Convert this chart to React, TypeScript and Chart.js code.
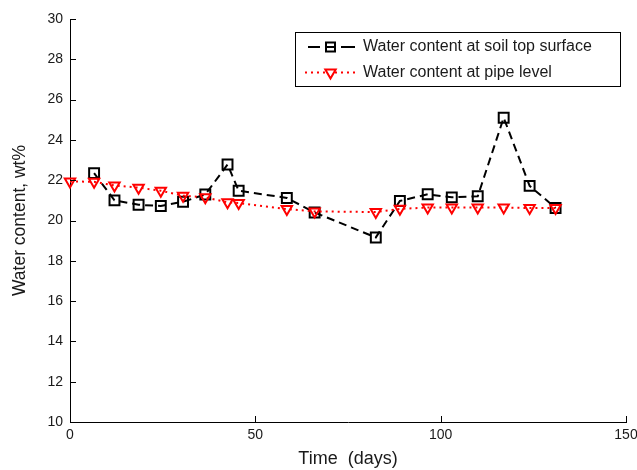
import React, { useEffect, useRef } from 'react';
import { Chart, registerables } from 'chart.js';

Chart.register(...registerables);

// ---- data ----
const daysSurface = [6.5, 12, 18.5, 24.5, 30.5, 36.5, 42.5, 45.5, 58.5, 66, 82.5, 89, 96.5, 103, 110, 117, 124, 131];
const surfaceWC = [22.35, 21.0, 20.78, 20.72, 20.93, 21.29, 22.78, 21.48, 21.12, 20.4, 19.16, 20.97, 21.3, 21.15, 21.2, 25.1, 21.72, 20.62];
const daysPipe = [0, 6.5, 12, 18.5, 24.5, 30.5, 36.5, 42.5, 45.5, 58.5, 66, 82.5, 89, 96.5, 103, 110, 117, 124, 131];
const pipeWC = [21.94, 21.92, 21.74, 21.63, 21.48, 21.23, 21.15, 20.9, 20.87, 20.57, 20.45, 20.42, 20.58, 20.64, 20.64, 20.64, 20.64, 20.62, 20.62];
const legendLabels = ['Water content at soil top surface', 'Water content at pipe level'];
const xTitle = 'Time  (days)';
const yTitle = 'Water content, wt%';
const xMin = 0, xMax = 150, xStep = 50;
const yMin = 10, yMax = 30, yStep = 2;

const FONT = '"Liberation Sans", Arial, Helvetica, sans-serif';
const TEXT = '#1a1a1a';

const innerTicks = {
  id: 'innerTicks',
  afterDraw(chart: any) {
    const ctx = chart.ctx;
    const xs = chart.scales.x;
    const ys = chart.scales.y;
    const a = chart.chartArea;
    ctx.save();
    ctx.strokeStyle = '#000';
    ctx.lineWidth = 1;
    ctx.beginPath();
    xs.ticks.forEach((t: any) => {
      const px = Math.round(xs.getPixelForValue(t.value)) + 0.5;
      ctx.moveTo(px, a.bottom);
      ctx.lineTo(px, a.bottom - 6);
    });
    ys.ticks.forEach((t: any) => {
      const py = Math.round(ys.getPixelForValue(t.value)) + 0.5;
      ctx.moveTo(a.left, py);
      ctx.lineTo(a.left + 6, py);
    });
    ctx.stroke();
    ctx.restore();
  },
};

const boxLegend = {
  id: 'boxLegend',
  afterDraw(chart: any) {
    const ctx = chart.ctx;
    const bx = 295.5, by = 32.5, bw = 325, bh = 54;
    ctx.save();
    ctx.fillStyle = '#fff';
    ctx.fillRect(bx, by, bw, bh);
    ctx.strokeStyle = '#000';
    ctx.lineWidth = 1;
    ctx.strokeRect(bx, by, bw, bh);

    const rows = [47, 72.5];
    // row 1: dashed black with square
    ctx.strokeStyle = '#000';
    ctx.lineWidth = 2;
    ctx.setLineDash([]);
    ctx.beginPath();
    ctx.moveTo(308, rows[0]);
    ctx.lineTo(320, rows[0]);
    ctx.moveTo(341, rows[0]);
    ctx.lineTo(355, rows[0]);
    ctx.stroke();
    ctx.strokeRect(326, rows[0] - 4.5, 9, 9);
    ctx.beginPath();
    ctx.moveTo(326, rows[0]);
    ctx.lineTo(335, rows[0]);
    ctx.stroke();

    // row 2: dotted red with triangle
    ctx.strokeStyle = '#ff0000';
    ctx.setLineDash([2, 4]);
    ctx.beginPath();
    ctx.moveTo(305, rows[1]);
    ctx.lineTo(355, rows[1]);
    ctx.stroke();
    ctx.setLineDash([]);
    ctx.fillStyle = '#fff';
    const r = 6, cx = 330.5, cy = rows[1];
    ctx.beginPath();
    ctx.moveTo(cx, cy + r);
    ctx.lineTo(cx - r * 0.866, cy - r * 0.5);
    ctx.lineTo(cx + r * 0.866, cy - r * 0.5);
    ctx.closePath();
    ctx.fill();
    ctx.stroke();

    ctx.fillStyle = TEXT;
    ctx.font = `16px ${FONT}`;
    ctx.textBaseline = 'middle';
    ctx.textAlign = 'left';
    ctx.fillText(legendLabels[0], 363, rows[0]);
    ctx.fillText(legendLabels[1], 363, rows[1]);
    ctx.restore();
  },
};

export default function App() {
  const ref = useRef<HTMLCanvasElement>(null);
  useEffect(() => {
    if (!ref.current) return;
    const chart = new Chart(ref.current, {
      type: 'line',
      data: {
        datasets: [
          {
            label: legendLabels[0],
            data: daysSurface.map((d, i) => ({ x: d, y: surfaceWC[i] })),
            borderColor: '#000',
            borderWidth: 2,
            borderDash: [8, 5],
            backgroundColor: 'rgba(0,0,0,0)',
            pointStyle: 'rect',
            pointRadius: 7,
            pointBorderWidth: 2,
            pointBorderColor: '#000',
            pointBackgroundColor: 'rgba(0,0,0,0)',
            tension: 0,
            clip: false,
            order: 2,
          } as any,
          {
            label: legendLabels[1],
            data: daysPipe.map((d, i) => ({ x: d, y: pipeWC[i] })),
            borderColor: '#ff0000',
            borderWidth: 2,
            borderDash: [2, 4],
            backgroundColor: 'rgba(0,0,0,0)',
            pointStyle: 'triangle',
            pointRotation: 180,
            pointRadius: 6,
            pointBorderWidth: 2,
            pointBorderColor: '#ff0000',
            pointBackgroundColor: 'rgba(0,0,0,0)',
            tension: 0,
            clip: false,
            order: 1,
          } as any,
        ],
      },
      options: {
        responsive: false,
        animation: false,
        devicePixelRatio: 1,
        layout: { padding: { top: 19, right: 11, left: 0, bottom: 0 } },
        plugins: { legend: { display: false }, tooltip: { enabled: false } },
        scales: {
          x: {
            type: 'linear',
            min: xMin,
            max: xMax,
            ticks: {
              stepSize: xStep,
              maxRotation: 0,
              padding: 5,
              color: TEXT,
              font: { family: FONT, size: 14 },
            },
            grid: { display: false, drawTicks: false },
            border: { display: true, color: '#000', width: 1 },
            title: {
              display: true,
              text: xTitle,
              color: TEXT,
              font: { family: FONT, size: 18, lineHeight: 1.2 },
              padding: { top: 0, bottom: 0 },
            },
            afterFit(scale: any) {
              scale.height = 48;
              scale.paddingLeft = 0;
              scale.paddingRight = 0;
            },
          },
          y: {
            type: 'linear',
            min: yMin,
            max: yMax,
            ticks: {
              stepSize: yStep,
              padding: 7,
              color: TEXT,
              font: { family: FONT, size: 14 },
            },
            grid: { display: false, drawTicks: false },
            border: { display: true, color: '#000', width: 1 },
            title: {
              display: true,
              text: yTitle,
              color: TEXT,
              font: { family: FONT, size: 17.5, lineHeight: 1.2 },
              padding: { top: 10, bottom: 0 },
            },
            afterFit(scale: any) {
              scale.width = 70;
              scale.paddingTop = 0;
              scale.paddingBottom = 0;
            },
          },
        },
      },
      plugins: [innerTicks, boxLegend],
    });
    return () => chart.destroy();
  }, []);
  return (
    <div style={{ position: 'fixed', left: 0, top: 0, width: 637, height: 470, background: '#fff' }}>
      <canvas ref={ref} width={637} height={470} />
    </div>
  );
}
